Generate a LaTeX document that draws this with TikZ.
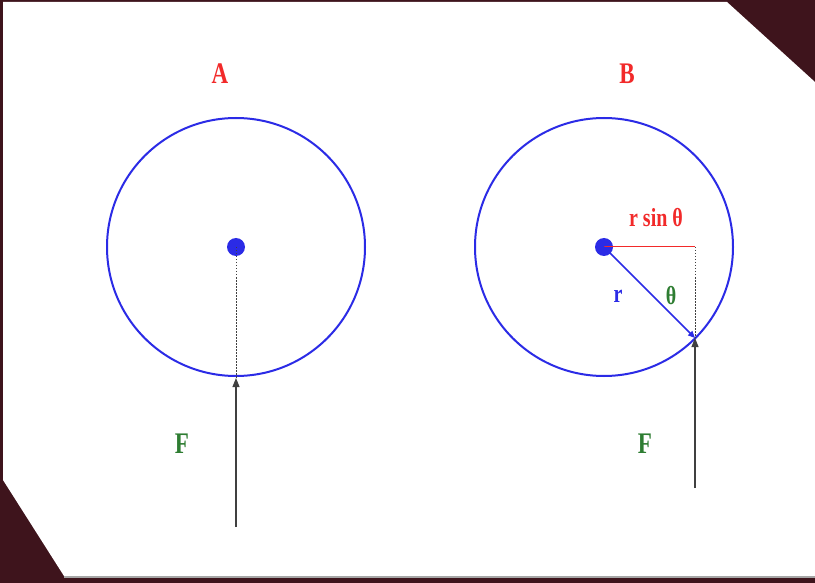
\documentclass[tikz,border=0pt]{standalone}
\usepackage{fontspec}
\setmainfont{Liberation Serif}
\usepackage{graphicx}
\usetikzlibrary{arrows.meta,positioning}
\definecolor{PanelBack}{HTML}{3E141C}
\definecolor{LabelRed}{HTML}{F22A2A}
\definecolor{LabelGreen}{HTML}{2E7D32}
\definecolor{WheelBlue}{HTML}{2B2BE6}
\newcommand{\tall}[1]{\scalebox{1}[1.3]{#1}}

\begin{document}
\begin{tikzpicture}[x=1pt,y=-1pt,
  lab/.style={inner sep=0pt,font=\bfseries\fontsize{23}{23}\selectfont},
  small/.style={inner sep=0pt,font=\bfseries\fontsize{20}{20}\selectfont},
  wheel/.style={draw=WheelBlue,line width=2pt},
  hub/.style={circle,fill=WheelBlue,minimum size=18pt,inner sep=0pt},
  force/.style={black!75,line width=1.1pt,-{Triangle[length=9pt,width=7pt]}},
  arm/.style={draw=black!75,line width=1pt,dash pattern=on 1.5pt off 1.5pt}]
      \useasboundingbox (0,0) rectangle (815,583);
      \fill[PanelBack] (0,0) rectangle (815,583);
      \fill[white] (3,2)--(727,2)--(815,82)--(815,576)--(64,576)--(3,480)--cycle;
      \draw[black!35,line width=2pt] (64,577)--(815,577);
      % wheel A
      \draw[wheel] (236,247) circle[radius=129pt];
      \node[hub] (ha) at (236,247) {};
      \coordinate (ea) at (236,378);
      \coordinate (ta) at (236,527);
      \node[lab,text=LabelRed] (la) at (220,74) {\tall{A}};
      \node[lab,text=LabelGreen] (fa) at (182,444) {\tall{F}};
      % wheel B
      \draw[wheel] (604,247) circle[radius=129pt];
      \node[hub] (hb) at (604,247) {};
      \coordinate (eb) at (695,338);
      \coordinate (cb) at (695,247);
      \coordinate (tb) at (695,488);
      \node[lab,text=LabelRed] (lb) at (627,74) {\tall{B}};
      \node[lab,text=LabelGreen] (fb) at (645,444) {\tall{F}};
      \node[small,text=LabelRed] (rs) at (656,218) {\tall{r sin θ}};
      \node[small,text=WheelBlue] (rr) at (618,296) {\tall{r}};
      \node[small,text=LabelGreen] (th) at (671,296) {\tall{θ}};
      \draw[arm] (ha.center)--(ea);
      \draw[arm] (cb)--(eb);
      \draw[LabelRed,line width=1pt] (hb.center)--(cb);
      \draw[WheelBlue,line width=1.5pt,-{Triangle[length=7pt,width=6pt]}] (hb.center)--(eb);
      \foreach \x/\y in {ta/ea,tb/eb}{\draw[force] (\x)--(\y);}
    \end{tikzpicture}
\end{document}
